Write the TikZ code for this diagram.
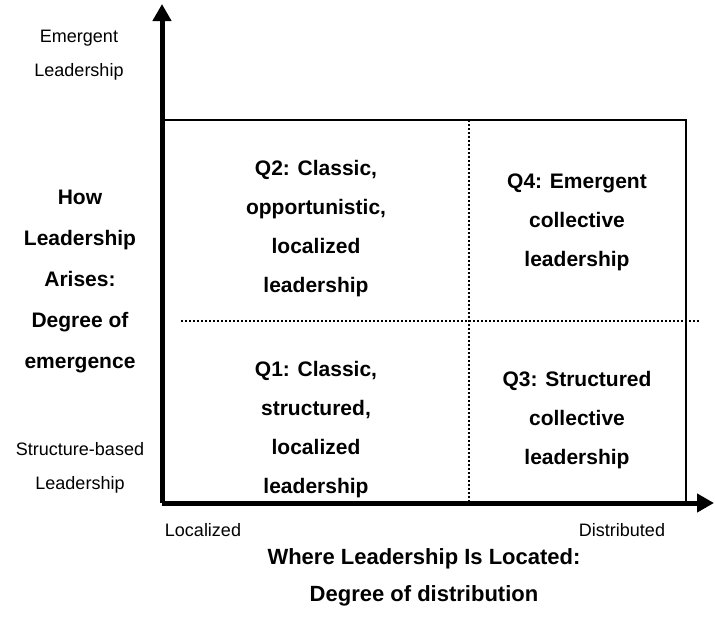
\documentclass[tikz,border=0pt]{standalone}
\usepackage{fontspec}
\setmainfont{Liberation Sans}
\usetikzlibrary{arrows.meta}
\tikzset{
  axis/.style={line width=5pt,-{Triangle[width=18pt,length=17pt]}},
  frame/.style={line width=2pt},
  dotline/.style={line width=1.6pt,dash pattern=on 1.6pt off 2.4pt},
  qtext/.style={align=center,font=\fontsize{21}{39}\selectfont\bfseries,inner sep=0pt},
  ltext/.style={align=center,font=\fontsize{18}{34}\selectfont,inner sep=0pt},
  btext/.style={align=center,font=\fontsize{21}{41}\selectfont\bfseries,inner sep=0pt},
  xtext/.style={align=center,font=\fontsize{22}{37}\selectfont\bfseries,inner sep=0pt}
}
\begin{document}
\begin{tikzpicture}[x=1pt,y=-1pt]
\useasboundingbox (0,0) rectangle (715,621);
\coordinate (O) at (162,503);
\coordinate (ytip) at (162,4);
\coordinate (xtip) at (714,503);
\coordinate (tl) at (162,120);
\coordinate (tr) at (686,120);
\coordinate (br) at (686,503);
\coordinate (vt) at (469,120);
\coordinate (vb) at (469,503);
\coordinate (hl) at (181,321);
\coordinate (hr) at (700,321);
% frame and dividers
\draw[frame] (tl) -- (tr) -- (br);
\draw[dotline] (vt) -- (vb);
\draw[dotline] (hl) -- (hr);
% axes
\draw[axis] (O) -- (ytip);
\draw[axis] (O) -- (xtip);
% quadrant texts
\node[qtext] (q2) at (316,229) {Q2: Classic,\\opportunistic,\\localized\\leadership};
\node[qtext] (q1) at (316,430) {Q1: Classic,\\structured,\\localized\\leadership};
\node[qtext] (q4) at (577,222) {Q4: Emergent\\collective\\leadership};
\node[qtext] (q3) at (577,420) {Q3: Structured\\collective\\leadership};
% y axis labels
\node[ltext] (emer) at (79,55) {Emergent\\Leadership};
\node[ltext] (struc) at (80,468) {Structure-based\\Leadership};
\node[btext] (ylab) at (80,281) {How\\Leadership\\Arises:\\Degree of\\emergence};
% x axis labels
\node[ltext] (loc) at (203,530) {Localized};
\node[ltext] (dist) at (622,530) {Distributed};
\node[xtext] (xlab) at (424,577) {Where Leadership Is Located:\\Degree of distribution};
\end{tikzpicture}
\end{document}
